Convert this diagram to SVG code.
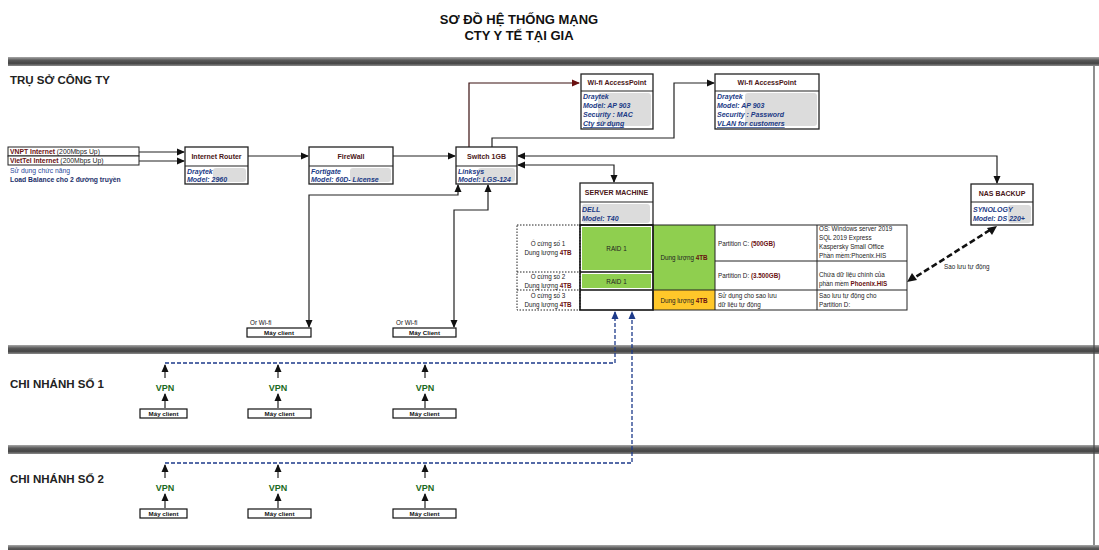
<svg xmlns="http://www.w3.org/2000/svg" width="1099" height="550" viewBox="0 0 1099 550">
<style>
text{font-family:"Liberation Sans",Arial,sans-serif}
.title{font-size:13px;font-weight:bold;fill:#111;text-anchor:middle}
.sec{font-size:11.5px;font-weight:bold;fill:#222}
.hd{font-size:7px;font-weight:bold;fill:#4a1616;text-anchor:middle}
.bd{font-size:7px;font-weight:bold;font-style:italic;fill:#1b3a86}
.box{fill:#fff;stroke:#222;stroke-width:1.3}
.gray{fill:#dcdcdc}
.tb{font-size:6.3px;fill:#222}
.tbc{font-size:6.3px;fill:#222;text-anchor:middle}
.red{fill:#6a1010;font-weight:bold}
.vpn{font-size:9px;font-weight:bold;fill:#1c6a22;text-anchor:middle}
.cl{font-size:6.2px;font-weight:bold;fill:#111;text-anchor:middle}
.cbox{fill:#fff;stroke:#111;stroke-width:1.2}
.ln{fill:none;stroke:#222;stroke-width:1.2}
.lnr{fill:none;stroke:#3a1010;stroke-width:1.2}
.dash{fill:none;stroke:#1d3a8a;stroke-width:1.3;stroke-dasharray:4,2}
.nasd{fill:none;stroke:#111;stroke-width:2.6;stroke-dasharray:6,3}
.bar{fill:url(#bg)}
</style>
<defs>
<linearGradient id="bg" x1="0" y1="0" x2="0" y2="1">
<stop offset="0" stop-color="#a8a8a8"/>
<stop offset="0.35" stop-color="#5a5a5a"/>
<stop offset="0.7" stop-color="#444"/>
<stop offset="1" stop-color="#8a8a8a"/>
</linearGradient>
<marker id="a" markerWidth="8" markerHeight="8" refX="7" refY="4" orient="auto-start-reverse" markerUnits="userSpaceOnUse">
<path d="M0,0.5 L8,4 L0,7.5 Z" fill="#111"/>
</marker>
<marker id="ar" markerWidth="8" markerHeight="8" refX="7" refY="4" orient="auto-start-reverse" markerUnits="userSpaceOnUse">
<path d="M0,0.5 L8,4 L0,7.5 Z" fill="#6a1010"/>
</marker>
<marker id="ab" markerWidth="8" markerHeight="8" refX="7" refY="4" orient="auto-start-reverse" markerUnits="userSpaceOnUse">
<path d="M0,0.5 L8,4 L0,7.5 Z" fill="#1d3a8a"/>
</marker>
</defs>
<rect width="1099" height="550" fill="#fff"/>

<g id="title">
<text class="title" x="519" y="24">SƠ ĐỒ HỆ THỐNG MẠNG</text>
<text class="title" x="519" y="40">CTY Y TẾ TẠI GIA</text>
</g>

<g id="frame">
<rect class="bar" x="8" y="57" width="1091" height="9"/>
<rect class="bar" x="8" y="345" width="1091" height="9"/>
<rect class="bar" x="8" y="445" width="1091" height="9"/>
<rect class="bar" x="8" y="545" width="1091" height="9"/>
<line x1="1094" y1="66" x2="1094" y2="545" stroke="#444" stroke-width="1.2"/>
<text class="sec" x="10" y="84">TRỤ SỞ CÔNG TY</text>
<text class="sec" x="10" y="388">CHI NHÁNH SỐ 1</text>
<text class="sec" x="10" y="483">CHI NHÁNH SỐ 2</text>
</g>

<g id="connectors">
<path class="ln" d="M139,152 H184" marker-end="url(#a)"/>
<path class="ln" d="M139,161 H184" marker-end="url(#a)"/>
<path class="ln" d="M248,156 H308" marker-end="url(#a)"/>
<path class="ln" d="M393,156 H455" marker-end="url(#a)"/>
<path class="lnr" d="M469,147 V83 H579" marker-end="url(#ar)"/>
<path class="ln" d="M492,147 V138 H674 V83 H714" marker-end="url(#a)"/>
<path class="ln" d="M518,156 H997 V183" marker-start="url(#a)" marker-end="url(#a)"/>
<path class="ln" d="M518,165 H614 V182" marker-start="url(#a)" marker-end="url(#a)"/>
<path class="ln" d="M458,185 V195 H309 V327" marker-start="url(#a)" marker-end="url(#a)"/>
<path class="ln" d="M488,185 V210 H454 V327" marker-start="url(#a)" marker-end="url(#a)"/>
<path class="nasd" d="M990,230 L914,278"/>
<path d="M997,226 L987,228 L992,235 Z" fill="#111"/>
<path d="M907,282 L917,280 L912,273 Z" fill="#111"/>
<path class="dash" d="M165,363 H615 V312" marker-end="url(#ab)"/>
<path class="dash" d="M165,463 H632 V312" marker-end="url(#ab)"/>
<path class="ln" d="M165,378 V365" marker-end="url(#a)"/>
<path class="ln" d="M278,378 V365" marker-end="url(#a)"/>
<path class="ln" d="M425,378 V365" marker-end="url(#a)"/>
<path class="ln" d="M165,408 V394" marker-end="url(#a)"/>
<path class="ln" d="M278,408 V394" marker-end="url(#a)"/>
<path class="ln" d="M425,408 V394" marker-end="url(#a)"/>
<path class="ln" d="M165,478 V465" marker-end="url(#a)"/>
<path class="ln" d="M278,478 V465" marker-end="url(#a)"/>
<path class="ln" d="M425,478 V465" marker-end="url(#a)"/>
<path class="ln" d="M165,508 V494" marker-end="url(#a)"/>
<path class="ln" d="M278,508 V494" marker-end="url(#a)"/>
<path class="ln" d="M425,508 V494" marker-end="url(#a)"/>
</g>

<g id="internet">
<rect x="8" y="147" width="131" height="9" fill="#fff" stroke="#222" stroke-width="1"/>
<rect x="8" y="156" width="131" height="9" fill="#fff" stroke="#222" stroke-width="1"/>
<text x="10" y="154" font-size="6.8" fill="#222"><tspan class="red">VNPT Internet</tspan> (200Mbps Up)</text>
<text x="10" y="163" font-size="6.8" fill="#222"><tspan class="red">VietTel Internet</tspan> (200Mbps Up)</text>
<text x="10" y="172.5" font-size="6.8" fill="#2a4a9a">Sử dụng chức năng</text>
<text x="10" y="182" font-size="6.8" font-weight="bold" fill="#1b2f6a">Load Balance cho 2 đường truyền</text>
</g>

<g id="router">
<rect class="box" x="185" y="147" width="63" height="37"/>
<rect class="gray" x="213" y="168" width="33" height="14" rx="3"/>
<line x1="185" y1="166" x2="248" y2="166" stroke="#222" stroke-width="1.2"/>
<text class="hd" x="216.5" y="159">Internet Router</text>
<text class="bd" x="187" y="174">Draytek</text>
<text class="bd" x="187" y="182">Model: 2960</text>
</g>

<g id="firewall">
<rect class="box" x="309" y="147" width="84" height="37"/>
<rect class="gray" x="350" y="168" width="41" height="14" rx="3"/>
<line x1="309" y1="166" x2="393" y2="166" stroke="#222" stroke-width="1.2"/>
<text class="hd" x="351" y="159">FireWall</text>
<text class="bd" x="311" y="174">Fortigate</text>
<text class="bd" x="311" y="182">Model: 60D- License</text>
</g>

<g id="switch">
<rect class="box" x="456" y="147" width="61" height="37"/>
<rect class="gray" x="478" y="168" width="37" height="14" rx="3"/>
<line x1="456" y1="166" x2="517" y2="166" stroke="#222" stroke-width="1.2"/>
<text class="hd" x="486.5" y="159">Switch 1GB</text>
<text class="bd" x="458" y="174">Linksys</text>
<text class="bd" x="458" y="182">Model: LGS-124</text>
</g>

<g id="ap1">
<rect class="box" x="581" y="74" width="72" height="55"/>
<rect class="gray" x="598" y="93" width="53" height="33" rx="3"/>
<line x1="581" y1="91" x2="653" y2="91" stroke="#222" stroke-width="1.2"/>
<text class="hd" x="617" y="85">Wi-fi AccessPoint</text>
<text class="bd" x="583" y="99">Draytek</text>
<text class="bd" x="583" y="108">Model: AP 903</text>
<text class="bd" x="583" y="117">Security : MAC</text>
<text class="bd" x="583" y="126" text-decoration="underline">Cty sử dụng</text>
</g>

<g id="ap2">
<rect class="box" x="715" y="74" width="104" height="55"/>
<rect class="gray" x="745" y="93" width="72" height="33" rx="3"/>
<line x1="715" y1="91" x2="819" y2="91" stroke="#222" stroke-width="1.2"/>
<text class="hd" x="767" y="85">Wi-fi AccessPoint</text>
<text class="bd" x="717" y="99">Draytek</text>
<text class="bd" x="717" y="108">Model: AP 903</text>
<text class="bd" x="717" y="117">Security : Password</text>
<text class="bd" x="717" y="126" text-decoration="underline">VLAN for customers</text>
</g>

<g id="nas">
<rect class="box" x="971" y="184" width="62" height="41"/>
<rect class="gray" x="1008" y="205" width="23" height="18" rx="3"/>
<line x1="971" y1="202" x2="1033" y2="202" stroke="#222" stroke-width="1.2"/>
<text class="hd" x="1002" y="195.5">NAS BACKUP</text>
<text class="bd" x="973" y="212">SYNOLOGY</text>
<text class="bd" x="973" y="221">Model: DS 220+</text>
<text class="tb" x="944" y="269">Sao lưu tự động</text>
</g>

<g id="server">
<rect class="box" x="580" y="183" width="73" height="42"/>
<rect class="gray" x="582" y="204" width="68" height="19" rx="3"/>
<line x1="580" y1="202" x2="653" y2="202" stroke="#222" stroke-width="1.2"/>
<text class="hd" x="616.5" y="195">SERVER MACHINE</text>
<text class="bd" x="582" y="212">DELL</text>
<text class="bd" x="582" y="221">Model: T40</text>
</g>

<g id="storage">
<rect x="517" y="225" width="63" height="85" fill="none" stroke="#222" stroke-width="1" stroke-dasharray="1.5,1.5"/>
<line x1="517" y1="272" x2="580" y2="272" stroke="#222" stroke-width="1" stroke-dasharray="1.5,1.5"/>
<line x1="517" y1="290" x2="580" y2="290" stroke="#222" stroke-width="1" stroke-dasharray="1.5,1.5"/>
<rect x="653" y="225" width="62" height="65" fill="#8fcf4f"/>
<rect x="653" y="290" width="62" height="20" fill="#ffc72a"/>
<rect x="582" y="227" width="69" height="43" fill="#8fcf4f"/>
<rect x="582" y="274" width="69" height="14" fill="#8fcf4f"/>
<rect x="580" y="225" width="73" height="85" fill="none" stroke="#111" stroke-width="1.6"/>
<line x1="580" y1="272" x2="653" y2="272" stroke="#111" stroke-width="1.5"/>
<line x1="580" y1="290" x2="653" y2="290" stroke="#111" stroke-width="1.5"/>
<rect x="653" y="225" width="254" height="85" fill="none" stroke="#222" stroke-width="1"/>
<line x1="715" y1="225" x2="715" y2="310" stroke="#222" stroke-width="1"/>
<line x1="817" y1="225" x2="817" y2="310" stroke="#222" stroke-width="1"/>
<line x1="715" y1="261" x2="907" y2="261" stroke="#222" stroke-width="1"/>
<line x1="653" y1="290" x2="907" y2="290" stroke="#222" stroke-width="1"/>
<text class="tbc" x="548" y="246">Ổ cứng số 1</text>
<text class="tbc" x="548" y="255">Dung lượng <tspan class="red">4TB</tspan></text>
<text class="tbc" x="548" y="279">Ổ cứng số 2</text>
<text class="tbc" x="548" y="288">Dung lượng <tspan class="red">4TB</tspan></text>
<text class="tbc" x="548" y="298">Ổ cứng số 3</text>
<text class="tbc" x="548" y="307">Dung lượng <tspan class="red">4TB</tspan></text>
<text class="tbc" x="616.5" y="251">RAID 1</text>
<text class="tbc" x="616.5" y="283.5">RAID 1</text>
<text class="tbc" x="684" y="260">Dung lượng <tspan class="red">4TB</tspan></text>
<text class="tbc" x="684" y="302.5">Dung lượng <tspan class="red">4TB</tspan></text>
<text class="tb" x="718" y="246">Partition C: <tspan class="red">(500GB)</tspan></text>
<text class="tb" x="718" y="278">Partition D: <tspan class="red">(3.500GB)</tspan></text>
<text class="tb" x="718" y="298">Sử dụng cho sao lưu</text>
<text class="tb" x="718" y="307">dữ liệu tự động</text>
<text class="tb" x="819" y="231">OS: Windows server 2019</text>
<text class="tb" x="819" y="240">SQL 2019 Express</text>
<text class="tb" x="819" y="249">Kaspersky Small Office</text>
<text class="tb" x="819" y="258">Phần mềm:Phoenix.HIS</text>
<text class="tb" x="819" y="277">Chứa dữ liệu chính của</text>
<text class="tb" x="819" y="286">phần mềm <tspan class="red">Phoenix.HIS</tspan></text>
<text class="tb" x="819" y="298">Sao lưu tự động cho</text>
<text class="tb" x="819" y="307">Partition D:</text>
</g>

<g id="client-ho-1">
<text x="250" y="325" font-size="6.3" fill="#111">Or Wi-fi</text>
<rect class="cbox" x="247" y="328" width="64" height="9"/>
<text class="cl" x="279" y="334.6">Máy client</text>
</g>
<g id="client-ho-2">
<text x="396" y="325" font-size="6.3" fill="#111">Or Wi-fi</text>
<rect class="cbox" x="393" y="328" width="63" height="9"/>
<text class="cl" x="424.5" y="334.6">Máy Client</text>
</g>

<g id="branch1">
<text class="vpn" x="165" y="391">VPN</text>
<text class="vpn" x="278" y="391">VPN</text>
<text class="vpn" x="425" y="391">VPN</text>
<rect class="cbox" x="140" y="409" width="47" height="9"/>
<text class="cl" x="163.5" y="415.6">Máy client</text>
<rect class="cbox" x="248" y="409" width="63" height="9"/>
<text class="cl" x="279.5" y="415.6">Máy client</text>
<rect class="cbox" x="393" y="409" width="63" height="9"/>
<text class="cl" x="424.5" y="415.6">Máy client</text>
</g>

<g id="branch2">
<text class="vpn" x="165" y="491">VPN</text>
<text class="vpn" x="278" y="491">VPN</text>
<text class="vpn" x="425" y="491">VPN</text>
<rect class="cbox" x="140" y="509" width="47" height="9"/>
<text class="cl" x="163.5" y="515.6">Máy client</text>
<rect class="cbox" x="248" y="509" width="63" height="9"/>
<text class="cl" x="279.5" y="515.6">Máy client</text>
<rect class="cbox" x="393" y="509" width="63" height="9"/>
<text class="cl" x="424.5" y="515.6">Máy client</text>
</g>
</svg>
